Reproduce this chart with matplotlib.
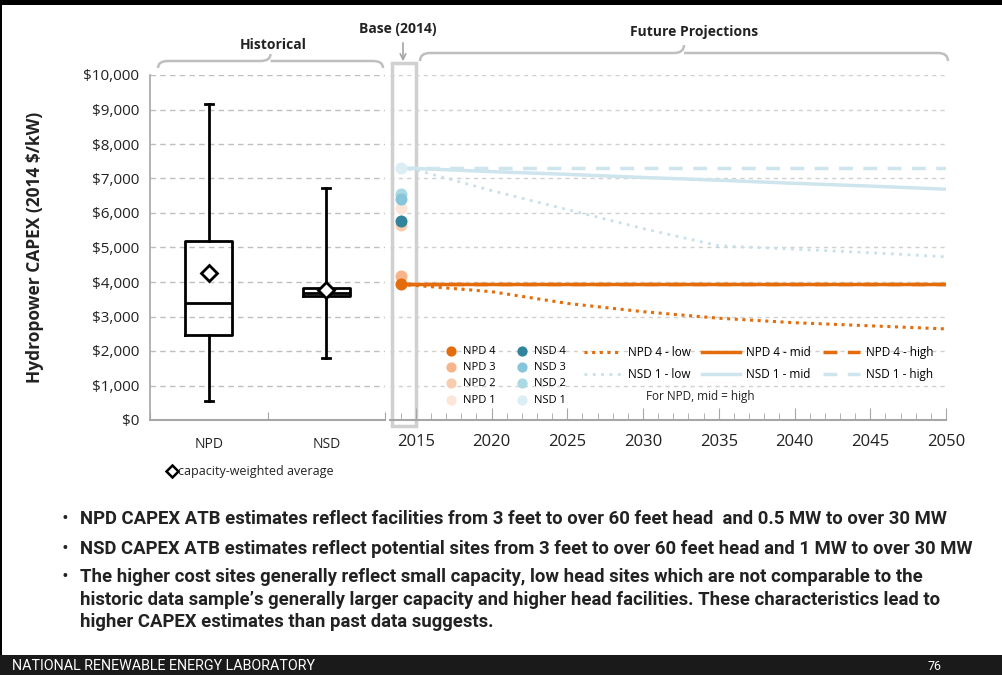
import numpy as np
import matplotlib
matplotlib.use("Agg")
import matplotlib.pyplot as plt
from matplotlib.path import Path
from matplotlib.patches import PathPatch, Rectangle

plt.rcParams['font.family'] = ['Open Sans', 'DejaVu Sans']

# historical box plots (2014 $/kW)
hist_cats = ["NPD", "NSD"]
hist_min = [560, 1800]
hist_q1 = [2450, 3580]
hist_med = [3380, 3680]
hist_q3 = [5200, 3820]
hist_max = [9150, 6720]
hist_mean = [4270, 3780]

# base year points
base_year = 2014
base_labels = ["NPD 4", "NPD 3", "NPD 2", "NPD 1", "NSD 4", "NSD 3", "NSD 2", "NSD 1"]
base_values = [3930, 4180, 5650, 6150, 5770, 6400, 6550, 7300]
base_colors = ["#E46C0A", "#F5B48A", "#F8CDAE", "#FBE6D8",
               "#31849B", "#86C5DA", "#A9D9E2", "#DAEEF3"]

# projections
years = [2014, 2015, 2020, 2025, 2030, 2035, 2040, 2045, 2050]
npd4_low = [3930, 3900, 3720, 3380, 3140, 2950, 2820, 2730, 2640]
npd4_mid = [3930, 3930, 3930, 3930, 3930, 3930, 3930, 3930, 3930]
npd4_high = [3930, 3930, 3930, 3930, 3930, 3930, 3930, 3930, 3930]
nsd1_low = [7300, 7250, 6650, 6100, 5550, 5050, 4950, 4850, 4730]
nsd1_mid = [7300, 7290, 7200, 7120, 7030, 6950, 6860, 6780, 6690]
nsd1_high = [7300, 7300, 7300, 7300, 7300, 7300, 7300, 7300, 7300]

bullet_lines = [
    "NPD CAPEX ATB estimates reflect facilities from 3 feet to over 60 feet head  and 0.5 MW to over 30 MW",
    "NSD CAPEX ATB estimates reflect potential sites from 3 feet to over 60 feet head and 1 MW to over 30 MW",
    "The higher cost sites generally reflect small capacity, low head sites which are not comparable to the",
    "historic data sample\u2019s generally larger capacity and higher head facilities. These characteristics lead to",
    "higher CAPEX estimates than past data suggests.",
]

yticks = np.arange(0, 10001, 1000)
orange = "#E46C0A"
ltblue = "#CFE5EE"
gridc = "#BFBFBF"
txtc = "#222222"

W, H = 1003, 675
fig = plt.figure(figsize=(W / 100, H / 100), dpi=100)


def fx(px):
    return px / W


def fy(py):
    return 1 - py / H


# ---- left: historical boxes
ax1 = fig.add_axes([fx(150), fy(420), fx(385) - fx(150), fy(75) - fy(420)])
ax1.patch.set_visible(False)
stats = []
for i in range(len(hist_cats)):
    stats.append(dict(med=hist_med[i], q1=hist_q1[i], q3=hist_q3[i],
                      whislo=hist_min[i], whishi=hist_max[i], mean=hist_mean[i]))
lw = 2
ax1.bxp(stats, positions=[0.5, 1.5], widths=0.4, showmeans=True, showfliers=False,
        boxprops=dict(color="black", linewidth=lw),
        medianprops=dict(color="black", linewidth=lw),
        whiskerprops=dict(color="black", linewidth=lw),
        capprops=dict(color="black", linewidth=lw), capwidths=0.07,
        meanprops=dict(marker="D", markerfacecolor="white", markeredgecolor="black",
                       markeredgewidth=2, markersize=8))
ax1.set_xlim(0, 2)
ax1.set_ylim(0, 10000)
ax1.set_yticks(yticks)
ax1.set_yticklabels([f"${v:,.0f}" for v in yticks], fontsize=11, color=txtc)
ax1.set_xticks([0, 1, 2])
ax1.set_xticklabels([])
ax1.set_xticks([0.5, 1.5], minor=True)
ax1.set_xticklabels(hist_cats, minor=True, fontsize=10, color=txtc)
ax1.tick_params(axis="x", which="minor", length=0, pad=12)
ax1.tick_params(axis="x", which="major", length=6, color="#A6A6A6", direction="in")
ax1.tick_params(axis="y", length=0, pad=8)
for s in ["top", "right"]:
    ax1.spines[s].set_visible(False)
ax1.spines["left"].set_color("#A6A6A6")
ax1.spines["bottom"].set_color("#A6A6A6")
ax1.spines["bottom"].set_linewidth(1.5)
ax1.spines["left"].set_linewidth(1.2)
ax1.yaxis.grid(True, color=gridc, linestyle=(0, (4, 3)), linewidth=1)
ax1.set_axisbelow(True)
ax1.set_ylabel("Hydropower CAPEX (2014 $/kW)", fontsize=12.5, fontweight="bold",
               labelpad=28, color=txtc)

# ---- right: base + projections
ax2 = fig.add_axes([fx(390), fy(420), fx(946) - fx(390), fy(75) - fy(420)])
ax2.patch.set_visible(False)
ax2.set_xlim(2013.3, 2050)
ax2.set_ylim(0, 10000)
ax2.set_yticks(yticks)
ax2.set_yticklabels([])
ax2.tick_params(axis="y", length=0)
ax2.yaxis.grid(True, color="#D0D0D0", linestyle=(0, (3, 3)), linewidth=1)
ax2.set_axisbelow(True)
ax2.set_xticks(np.arange(2015, 2051, 5))
ax2.set_xticks(np.arange(2014, 2051, 1), minor=True)
ax2.tick_params(axis="x", which="major", length=9, color="#A6A6A6", labelsize=12,
                labelcolor=txtc, pad=10, direction="in")
ax2.tick_params(axis="x", which="minor", length=5, color="#A6A6A6", direction="in")
for s in ["top", "right", "left"]:
    ax2.spines[s].set_visible(False)
ax2.spines["bottom"].set_color("#A6A6A6")
ax2.spines["bottom"].set_linewidth(1.5)

l_nsd_low, = ax2.plot(years, nsd1_low, color="#C8E0EA", linestyle=(0, (1, 2)), linewidth=2)
l_nsd_high, = ax2.plot(years, nsd1_high, color=ltblue, linestyle=(0, (4, 3)), linewidth=2.5)
l_nsd_mid, = ax2.plot(years, nsd1_mid, color=ltblue, linewidth=2.5)
l_npd_low, = ax2.plot(years, npd4_low, color=orange, linestyle=(0, (1, 1.5)), linewidth=2.2)
l_npd_high, = ax2.plot(years, npd4_high, color=orange, linestyle=(0, (4, 3)), linewidth=2.5)
l_npd_mid, = ax2.plot(years, npd4_mid, color=orange, linewidth=2.5)

# draw pale points first so the dark ones sit on top
order = [3, 2, 1, 7, 6, 5, 4, 0]
pts = {}
for i in order:
    pts[i] = ax2.scatter([base_year], [base_values[i]], s=75, color=base_colors[i],
                         zorder=5, linewidths=0, clip_on=False)

leg1 = ax2.legend([pts[i] for i in range(8)], base_labels, ncol=2, frameon=False,
                  loc="upper left", bbox_to_anchor=(fx(434), fy(340)),
                  bbox_transform=fig.transFigure, fontsize=8, handletextpad=0.1,
                  columnspacing=1.4, labelspacing=0.48, borderpad=0, markerscale=0.85)
ax2.add_artist(leg1)
ax2.legend([l_npd_low, l_nsd_low, l_npd_mid, l_nsd_mid, l_npd_high, l_nsd_high],
           ["NPD 4 - low", "NSD 1 - low", "NPD 4 - mid", "NSD 1 - mid",
            "NPD 4 - high", "NSD 1 - high"],
           ncol=3, frameon=False, loc="upper left",
           bbox_to_anchor=(fx(578), fy(340)), bbox_transform=fig.transFigure,
           fontsize=8.5, handlelength=3.2, handletextpad=0.5, columnspacing=1.0,
           labelspacing=0.8, borderpad=0)
ax2.text(2033.8, 670, "For NPD, mid = high", fontsize=8.5,
         ha="center", va="center", color=txtc)

# ---- overlay in pixel coordinates for slide decorations
ov = fig.add_axes([0, 0, 1, 1], zorder=-1)
ov.set_xlim(0, W)
ov.set_ylim(H, 0)
ov.axis("off")


def brace(x0, x1, y, h, r=10):
    xm = (x0 + x1) / 2
    verts = [(x0, y + h), (x0, y), (x0 + r, y), (xm - r, y),
             (xm, y), (xm, y - h), (xm, y), (xm + r, y), (x1 - r, y),
             (x1, y), (x1, y + h)]
    codes = [Path.MOVETO, Path.CURVE3, Path.CURVE3, Path.LINETO,
             Path.CURVE3, Path.CURVE3, Path.MOVETO, Path.CURVE3, Path.CURVE3,
             Path.CURVE3, Path.CURVE3]
    ov.add_patch(PathPatch(Path(verts, codes), fill=False, edgecolor="#BFBFBF", lw=1.8))


brace(158, 383, 61, 7)
brace(420, 948, 53, 8)
ov.text(273, 45, "Historical", fontsize=10, fontweight="bold", ha="center", va="center",
        color=txtc)
ov.text(398, 29, "Base (2014)", fontsize=10, fontweight="bold", ha="center", va="center",
        color=txtc)
ov.text(694, 32, "Future Projections", fontsize=10, fontweight="bold", ha="center",
        va="center", color=txtc)
ov.annotate("", xy=(403, 64), xytext=(403, 40),
            arrowprops=dict(arrowstyle="->", color="#A6A6A6", lw=1.2))
ov.add_patch(Rectangle((392, 63), 24, 363, fill=False, edgecolor="#D0D0D0", lw=2.5))
ov.plot([172], [471], marker="D", markersize=6, markerfacecolor="white",
        markeredgecolor="black", markeredgewidth=1.8)
ov.text(178, 471, "capacity-weighted average", fontsize=9, va="center", color=txtc)

# slide borders and footer
ov.add_patch(Rectangle((0, 0), W, 5, color="black", lw=0))
ov.add_patch(Rectangle((0, 0), 2, H, color="black", lw=0))
ov.add_patch(Rectangle((0, 655), W, 20, color="#1A1A1A", lw=0))
foot = ov.text(12, 666, "NATIONAL RENEWABLE ENERGY LABORATORY", fontsize=9, color="white",
               va="center", family=["Roboto", "DejaVu Sans"])
ov.text(935, 666, "76", fontsize=9, color="white", va="center", ha="center",
        family=["Roboto", "DejaVu Sans"])

# bullet text: fit the first line to the slide width
fam = ["Roboto", "DejaVu Sans"]
rend = fig.canvas.get_renderer()
probe = ov.text(80, 519, bullet_lines[0], fontsize=12, fontweight="bold", family=fam)
wpx = probe.get_window_extent(rend).width
probe.remove()
bsize = 12 * 862 / wpx
fw = foot.get_window_extent(rend).width
foot.set_fontsize(9 * 303 / fw)

rows = [519, 549, 577, 600, 622]
for k, (y, t) in enumerate(zip(rows, bullet_lines)):
    if k < 3:
        ov.text(62, y, "\u2022", fontsize=13, va="center", color=txtc)
    ov.text(80, y, t, fontsize=bsize, fontweight="bold", va="center", color=txtc,
            family=fam)

fig.savefig("out.png", dpi=100, facecolor="white")
